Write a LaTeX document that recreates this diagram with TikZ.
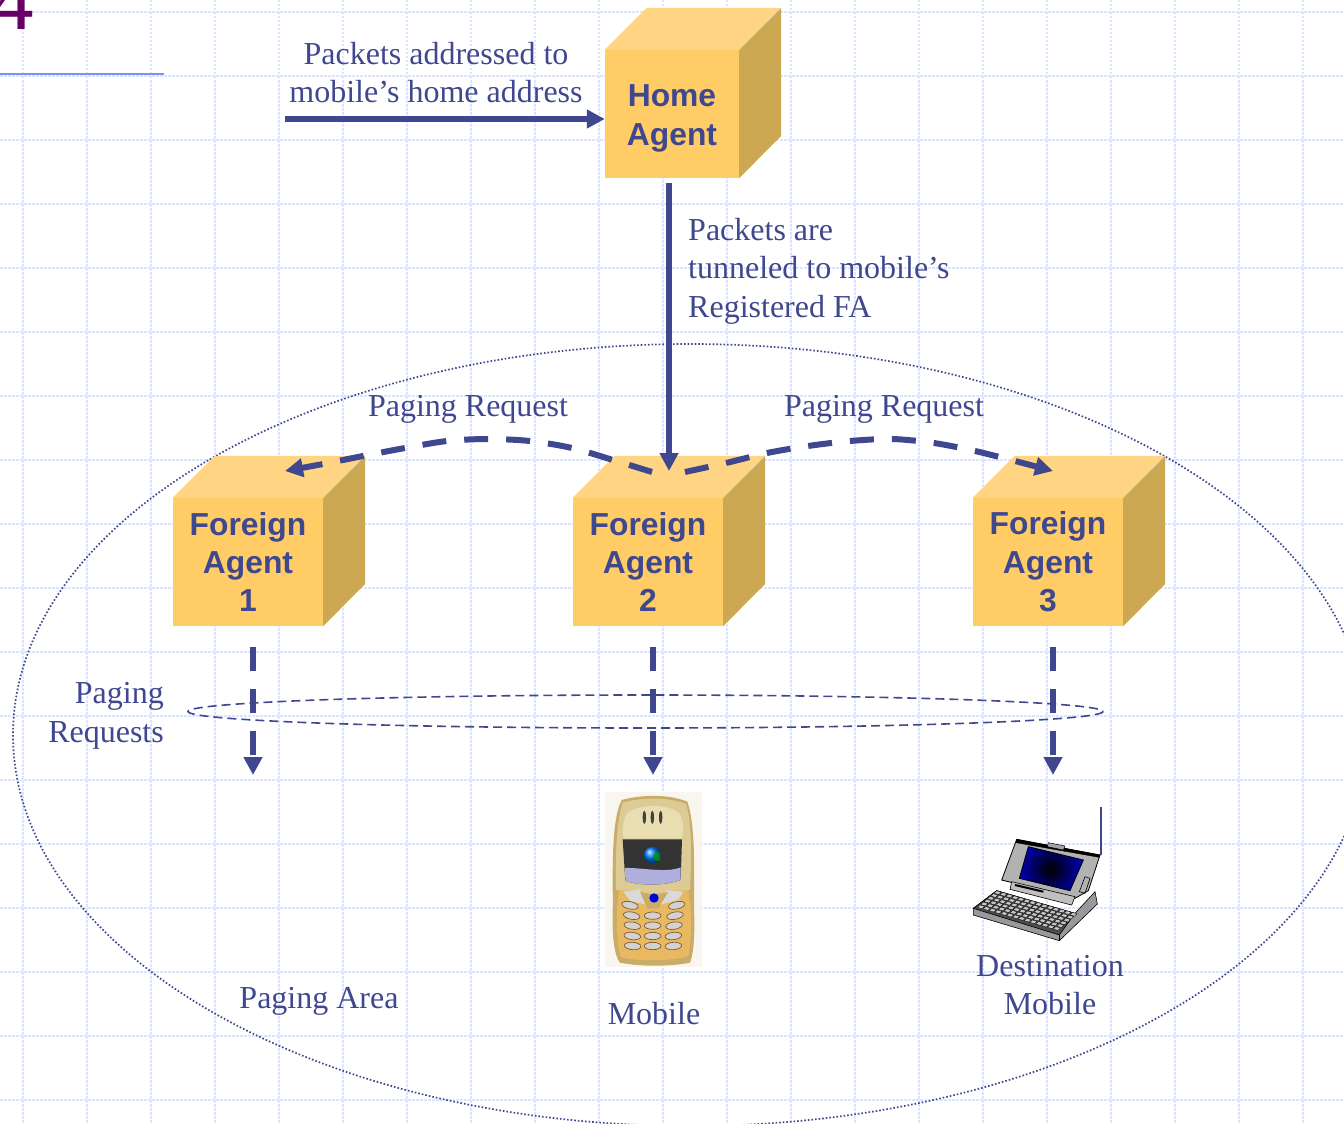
\documentclass[tikz,border=0pt]{standalone}
\usepackage{fontspec}
\setmainfont{Liberation Serif}
\newfontfamily\agentfont{Liberation Sans}
\usetikzlibrary{arrows.meta}
\definecolor{ink}{HTML}{3F478F}
\definecolor{gridc}{HTML}{DCE5FD}
\definecolor{cubefront}{HTML}{FFCC66}
\definecolor{cubetop}{HTML}{FFD583}
\definecolor{cubeside}{HTML}{CCA852}
\definecolor{plum}{HTML}{660066}
\definecolor{rulec}{HTML}{7C90F0}
\definecolor{phonebg}{HTML}{F8F6EF}
\definecolor{phoneedge}{HTML}{C8AC68}
\definecolor{phoneup}{HTML}{DCCB95}
\definecolor{phonecap}{HTML}{E9DDB2}
\definecolor{phonelow}{HTML}{E9B961}
\definecolor{phonekeyc}{HTML}{D2D2D0}
\tikzset{
  gridline/.style={gridc,line width=1.3pt,dash pattern=on 2.5pt off 1.5pt},
  lbl/.style={font=\fontsize{32}{38.4}\selectfont,text=ink,inner sep=0pt,align=center},
  agent/.style={fill=cubefront,draw=none,inner sep=0pt,align=center,text=ink,
     font=\agentfont\bfseries\fontsize{31.8}{38.4}\selectfont,minimum height=128pt},
  mainarrow/.style={ink,line width=6pt,-{Triangle[length=18pt,width=18pt]}},
  dasharrow/.style={ink,line width=6pt,dash pattern=on 24pt off 18pt,-{Triangle[length=18pt,width=18pt]}},
  areaellipse/.style={ink,line width=1.7pt,dash pattern=on 1.6pt off 2pt},
  pagingellipse/.style={ink,line width=1.6pt,dash pattern=on 9pt off 5pt},
}
\newcommand{\cubeagent}[6]{% name, cx, cy, width, depth, text
  \node[agent,minimum width=#4pt] (#1) at (#2,#3) {#6};
  \fill[cubetop] (#1.north west) -- ++(#5,-#5) -- ++(#4,0) -- (#1.north east) -- cycle;
  \fill[cubeside] (#1.north east) -- ++(#5,-#5) -- ++(0,128) -- (#1.south east) -- cycle;
}
\begin{document}
\begin{tikzpicture}[x=1pt,y=-1pt]
\useasboundingbox (0,0) rectangle (1344,1124);
\fill[white] (0,0) rectangle (1344,1124);
\foreach \gx in {23,87,...,1343} \draw[gridline] (\gx,0) -- (\gx,1124);
\foreach \gy in {12,76,...,1124} \draw[gridline] (0,\gy) -- (1344,\gy);

% title fragment and rule
\begin{scope}
\clip (0,0) rectangle (1344,1124);
\node[anchor=base east,inner sep=0pt,text=plum,font=\fontsize{85}{85}\selectfont] (digit) at (34,30) {4};
\end{scope}
\coordinate (ruleL) at (0,74);
\coordinate (ruleR) at (164,74);
\draw[rulec,line width=1.6pt] (ruleL) -- (ruleR);

% paging area
\draw[areaellipse] (690,735) ellipse [x radius=677,y radius=391];
\draw[pagingellipse] (645.5,711.5) ellipse [x radius=457.5,y radius=16.5];

% agents
\cubeagent{ha}{672}{114}{134}{42}{\rule{0pt}{31pt}Home\\Agent}
\cubeagent{fa1}{248}{562}{150}{42}{Foreign\\Agent\\1}
\cubeagent{fa2}{648}{562}{150}{42}{Foreign\\Agent\\2}
\cubeagent{fa3}{1048}{562}{150}{42}{Foreign\\Agent\\3}

% connector ends
\coordinate (srcstart) at (285,119);
\coordinate (haend) at (ha.west |- srcstart);
\coordinate (haout) at (669,183);
\coordinate (fa2in) at (669,471);
\coordinate (leftstart) at (652,472);
\coordinate (lefttip) at (285,471);
\coordinate (rightstart) at (685,472);
\coordinate (righttip) at (1053,471);
\coordinate (d1s) at (253,647);\coordinate (d1e) at (253,775);
\coordinate (d2s) at (653,647);\coordinate (d2e) at (653,775);
\coordinate (d3s) at (1053,647);\coordinate (d3e) at (1053,775);

\draw[mainarrow] (srcstart) -- (haend);
\draw[mainarrow] (haout) -- (fa2in);
\draw[dasharrow] plot[smooth,tension=.5] coordinates {(leftstart) (613,460) (572,448) (530,441) (488,439) (447,441) (405,448) (363,456) (323,464) (lefttip)};
\draw[dasharrow] plot[smooth,tension=.5] coordinates {(rightstart) (726,463) (767,453) (808,446) (850,441) (892,439) (934,443) (975,451) (1015,461) (righttip)};
\draw[dasharrow] (d1s) -- (d1e);
\draw[dasharrow] (d2s) -- (d2e);
\draw[dasharrow] (d3s) -- (d3e);

% labels
\node[lbl] (l1) at (436,72.5) {Packets addressed to\\mobile’s home address};
\node[lbl,anchor=west,align=left] (l2) at (688,271) {Packets are\\tunneled to mobile’s\\Registered FA};
\node[lbl] (l3) at (468,409) {Paging Request};
\node[lbl] (l4) at (884,409) {Paging Request};
\node[lbl,anchor=east,align=right] (l5) at (164,716) {Paging\\Requests};
\node[lbl] (l6) at (319,1001) {Paging Area};
\node[lbl] (l7) at (654,1014) {Mobile};
\node[lbl] (l8) at (1050,985) {Destination\\Mobile};

% phone (coordinates: 3x crop at 590,780)
\begin{scope}[shift={(590,780)},x=.33333pt,y=-.33333pt]
\fill[phonebg] (45,35) rectangle (335,560);
\fill[phoneedge] (95,60) .. controls (60,130) and (70,300) .. (68,400)
   .. controls (66,480) and (75,530) .. (90,548) .. controls (150,560) and (240,560) .. (300,548)
   .. controls (318,500) and (312,420) .. (312,340) .. controls (314,230) and (312,120) .. (292,65)
   .. controls (230,40) and (150,45) .. (95,60) -- cycle;
\fill[phonelow] (95,300) -- (285,300) .. controls (305,350) and (308,450) .. (296,525)
   .. controls (280,545) and (110,545) .. (92,530) .. controls (76,480) and (76,350) .. (95,300) -- cycle;
\fill[phoneup] (98,68) .. controls (150,52) and (235,50) .. (288,72)
   .. controls (305,120) and (305,220) .. (300,330) -- (240,330) .. controls (200,345) and (170,345) .. (150,330)
   -- (78,330) .. controls (76,220) and (80,120) .. (98,68) -- cycle;
\fill[phonecap] (110,100) .. controls (150,70) and (230,70) .. (268,100)
   .. controls (285,130) and (280,165) .. (275,175) -- (100,175) .. controls (95,150) and (100,120) .. (110,100) -- cycle;
% earpiece
\foreach \ex in {163,187,212}
  \fill[black!75] (\ex,112) ellipse [x radius=5,y radius=20];
% screen
\fill[black!80] (98,178) -- (276,178) -- (272,300) .. controls (220,318) and (150,318) .. (106,302) -- cycle;
\fill[gray!60!blue!45!white] (105,264) .. controls (150,262) and (230,280) .. (272,262) -- (272,300)
   .. controls (220,318) and (150,318) .. (106,302) -- cycle;
\shade[ball color=blue!50!cyan] (187,225) circle [radius=25];
\fill[green!60!black,opacity=.75] (190,225) .. controls (208,203) and (214,225) .. (210,240) .. controls (200,250) and (190,240) .. (190,225) -- cycle;
% navigator
\fill[black!15] (100,335) -- (150,328) -- (172,375) -- (120,362) -- cycle;
\fill[black!15] (280,335) -- (230,330) -- (205,375) -- (265,360) -- cycle;
\fill[phoneedge] (150,335) .. controls (175,345) and (215,345) .. (235,335) -- (205,385) -- (172,385) -- cycle;
\fill[blue!85!black] (192,354) circle [radius=14];
% keys
\foreach \kx/\ky/\ka in {120/376/-12,260/376/12,125/407/-10,188/407/0,255/407/10,
   127/437/-8,188/437/0,252/437/8,127/468/-6,188/468/0,250/468/6,128/498/-4,188/498/0,250/498/4}
  \fill[phonekeyc,draw=brown!70!black,line width=.7pt,rotate around={\ka:(\kx,\ky)}] (\kx,\ky) ellipse [x radius=25,y radius=11];
\end{scope}

% laptop (coordinates: 3x crop at 960,800)
\begin{scope}[shift={(960,800)},x=.33333pt,y=-.33333pt]
\coordinate (antA) at (423,20);
\coordinate (antB) at (423,165);
\fill[black!40,draw=black,line width=.6pt] (40,325) -- (40,345) -- (298,422) -- (412,312) -- (405,275) -- (345,340) -- (110,272) -- cycle;
\fill[black!70,draw=black,line width=.6pt] (40,325) -- (110,272) -- (345,340) -- (298,405) -- cycle;
\draw[line width=.6pt] (298,405) -- (298,422);
\fill[black!30,draw=black,line width=.8pt] (125,240) -- (170,118) -- (420,165) -- (385,272) -- (345,295) -- cycle;
\fill[black,draw=black] (170,118) -- (420,165) -- (418,172) -- (168,128) -- cycle;
\fill[black!35,draw=black,line width=.5pt] (265,128) -- (315,138) -- (310,150) -- (262,140) -- cycle;
\fill[black!25,draw=black,line width=.6pt] (155,245) -- (345,290) -- (335,315) -- (150,268) -- cycle;
\draw[line width=2pt] (165,255) -- (250,275);
\begin{scope}
\clip (205,140) -- (370,180) -- (330,272) -- (178,235) -- cycle;
\shade[inner color=black,outer color=blue!85!black] (272,207) circle [radius=115];
\end{scope}
\draw[black,line width=.8pt] (205,140) -- (370,180) -- (330,272) -- (178,235) -- cycle;
\draw[line width=.6pt] (375,230) -- (390,235) -- (375,280) -- (358,275) -- cycle;
\foreach \ki in {0,...,13}
  \foreach \kj in {0,...,5}
    \fill[black!22,draw=black,line width=.3pt]
      ({52+\ki*17.5+\kj*10.0},{322+\ki*5-\kj*8.5})
      -- ++(14,4) -- ++(8,-7) -- ++(-14,-4) -- cycle;
\end{scope}
\draw[ink,line width=1.6pt] (antA) -- (antB);
\end{tikzpicture}
\end{document}
